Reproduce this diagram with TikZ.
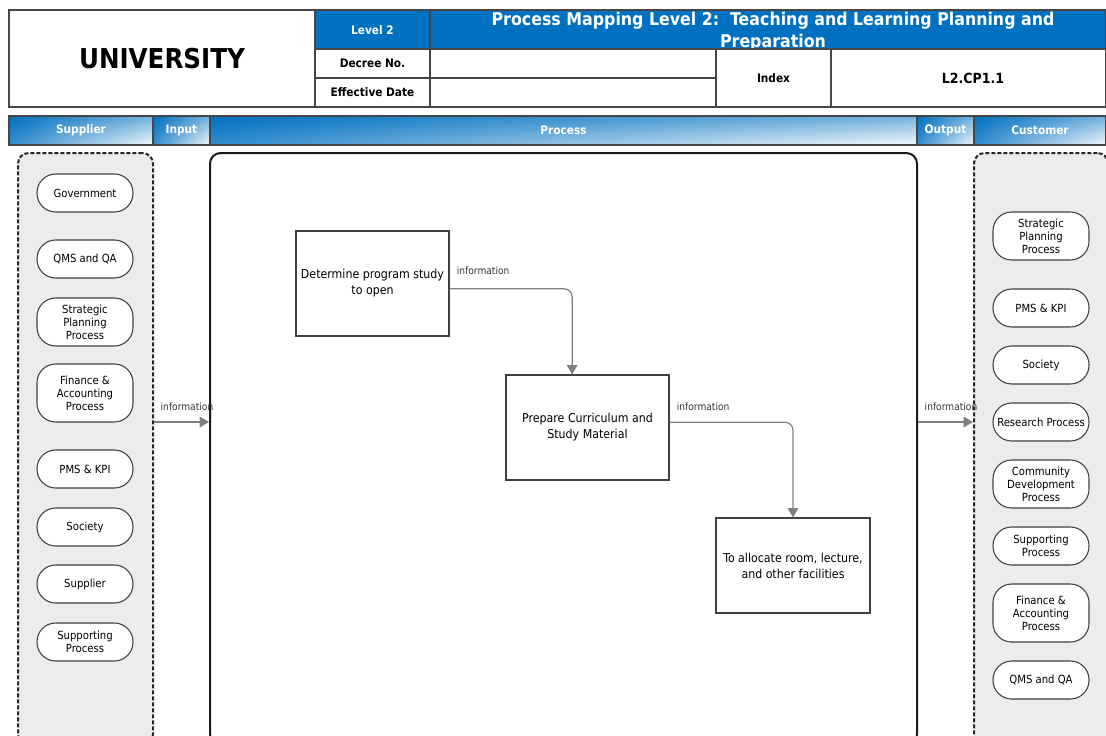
\documentclass[tikz,border=0pt]{standalone}
\usepackage{fontspec}
\setmainfont{DejaVu Sans Condensed}
\usetikzlibrary{arrows.meta,positioning,shadings}
\definecolor{hdrblue}{RGB}{0,112,192}
\definecolor{panelgray}{RGB}{236,236,236}
\definecolor{flowgray}{RGB}{128,128,128}
\definecolor{rulegray}{RGB}{70,70,70}
\tikzset{
  cell/.style={draw=rulegray, line width=0.9pt},
  hdrtext/.style={font=\fontsize{8.8}{10}\selectfont\bfseries},
  band/.style={draw=rulegray, line width=0.9pt, upper left=hdrblue, upper right=hdrblue!55,
    lower left=hdrblue!80, lower right=hdrblue!4,
    text=white, font=\fontsize{8.8}{10}\selectfont\bfseries, minimum height=21.75pt, inner sep=0pt},
  panel/.style={draw=black!85, line width=1.5pt, dash pattern=on 3pt off 1.5pt,
    fill=panelgray, rounded corners=8pt, minimum height=444pt},
  oval/.style={draw=black!75, line width=0.8pt, fill=white, rounded corners=14pt,
    minimum width=72pt, align=center, inner sep=1pt,
    font=\fontsize{8.4}{9.8}\selectfont},
  stepbox/.style={draw=black!75, line width=0.9pt, align=center,
    font=\fontsize{9.2}{12}\selectfont},
  flow/.style={draw=flowgray, line width=0.9pt, rounded corners=6pt,
    -{Triangle[length=7pt,width=8pt]}},
  flowlbl/.style={font=\fontsize{7.6}{8}\selectfont, text=black!80, inner sep=1pt}
}
\begin{document}
\begin{tikzpicture}[x=0.75pt, y=-0.75pt]
\useasboundingbox (0,0) rectangle (1106,735);
% header table
\draw[cell] (9,10) rectangle (315,107);
\node[font=\fontsize{20.5}{22}\selectfont\bfseries] (uni) at (162,59) {UNIVERSITY};
\draw[cell, fill=hdrblue] (315,10) rectangle (430,49);
\node[hdrtext, text=white] (lvl) at (372.5,30) {Level 2};
\draw[cell] (315,49) rectangle (430,78) (315,78) rectangle (430,107);
\node[hdrtext] (dec) at (372.5,63.5) {Decree No.};
\node[hdrtext] (eff) at (372.5,92.5) {Effective Date};
\draw[cell, fill=hdrblue] (430,10) rectangle (1106,49);
\node[align=center, text=white, font=\fontsize{13.2}{16.5}\selectfont\bfseries] (title) at (773,32)
  {Process Mapping Level 2:\ \ Teaching and Learning Planning and\\Preparation};
\draw[cell] (430,49) rectangle (716,78) (430,78) rectangle (716,107);
\draw[cell] (716,49) rectangle (831,107) (831,49) rectangle (1106,107);
\node[hdrtext] (idx) at (773.5,78) {Index};
\node[font=\fontsize{10.5}{12}\selectfont\bfseries] (code) at (973,78) {L2.CP1.1};

% column band
\node[band, minimum width=108pt] (bsup) at (81,130.5) {Supplier};
\node[band, minimum width=42.75pt] (binp) at (181.5,130.5) {Input};
\node[band, minimum width=530.25pt] (bproc) at (563.5,130.5) {Process};
\node[band, minimum width=42.75pt] (bout) at (945.5,130.5) {Output};
\node[band, minimum width=99pt] (bcus) at (1040,130.5) {Customer};

% panels
\node[panel, minimum width=101.25pt] (suppanel) at (85.5,449) {};
\node[draw=black!90, line width=1.5pt, rounded corners=8pt, minimum width=530.25pt,
  minimum height=444pt] (procpanel) at (563.5,449) {};
\node[panel, minimum width=100.5pt] (cuspanel) at (1041,449) {};

% suppliers
\foreach \y/\h/\t [count=\i] in {193/28.5/Government, 259/28.5/QMS and QA,
    322/36/{Strategic\\Planning\\Process}, 393/43.5/{Finance \&\\Accounting\\Process},
    469/28.5/PMS \& KPI, 527/28.5/Society, 584/28.5/Supplier, 642/28.5/{Supporting\\Process}}
  \node[oval, minimum height=\h pt] (sup\i) at (85,\y) {\t};

% customers
\foreach \y/\h/\t [count=\i] in {236/36/{Strategic\\Planning\\Process}, 308/28.5/PMS \& KPI,
    365/28.5/Society, 422/28.5/Research Process, 484/36/{Community\\Development\\Process},
    546/28.5/{Supporting\\Process}, 613/43.5/{Finance \&\\Accounting\\Process}, 680/28.5/QMS and QA}
  \node[oval, minimum height=\h pt] (cus\i) at (1041,\y) {\t};

% process steps
\node[stepbox, minimum width=114.75pt, minimum height=78.75pt] (detp) at (372.5,283.5)
  {Determine program study\\to open};
\node[stepbox, minimum width=122.25pt, minimum height=78.75pt] (prep) at (587.5,427.5)
  {Prepare Curriculum and\\Study Material};
\node[stepbox, minimum width=115.5pt, minimum height=71.25pt] (alloc) at (793,565.5)
  {To allocate room, lecture,\\and other facilities};

% flows
\coordinate (iolevel) at (0,422);
\draw[flow] (suppanel.east |- iolevel) -- (procpanel.west |- iolevel)
  node[flowlbl, pos=0.6, above=7pt] {information};
\draw[flow] (procpanel.east |- iolevel) -- (cuspanel.west |- iolevel)
  node[flowlbl, pos=0.6, above=7pt] {information};
\draw[flow] ([yshift=-4pt]detp.east) node[flowlbl, above right=9pt and 4pt] {information}
  -| ([xshift=-11.5pt]prep.north);
\draw[flow] ([yshift=4pt]prep.east) node[flowlbl, above right=7pt and 4pt] {information}
  -| (alloc.north);
\end{tikzpicture}
\end{document}
